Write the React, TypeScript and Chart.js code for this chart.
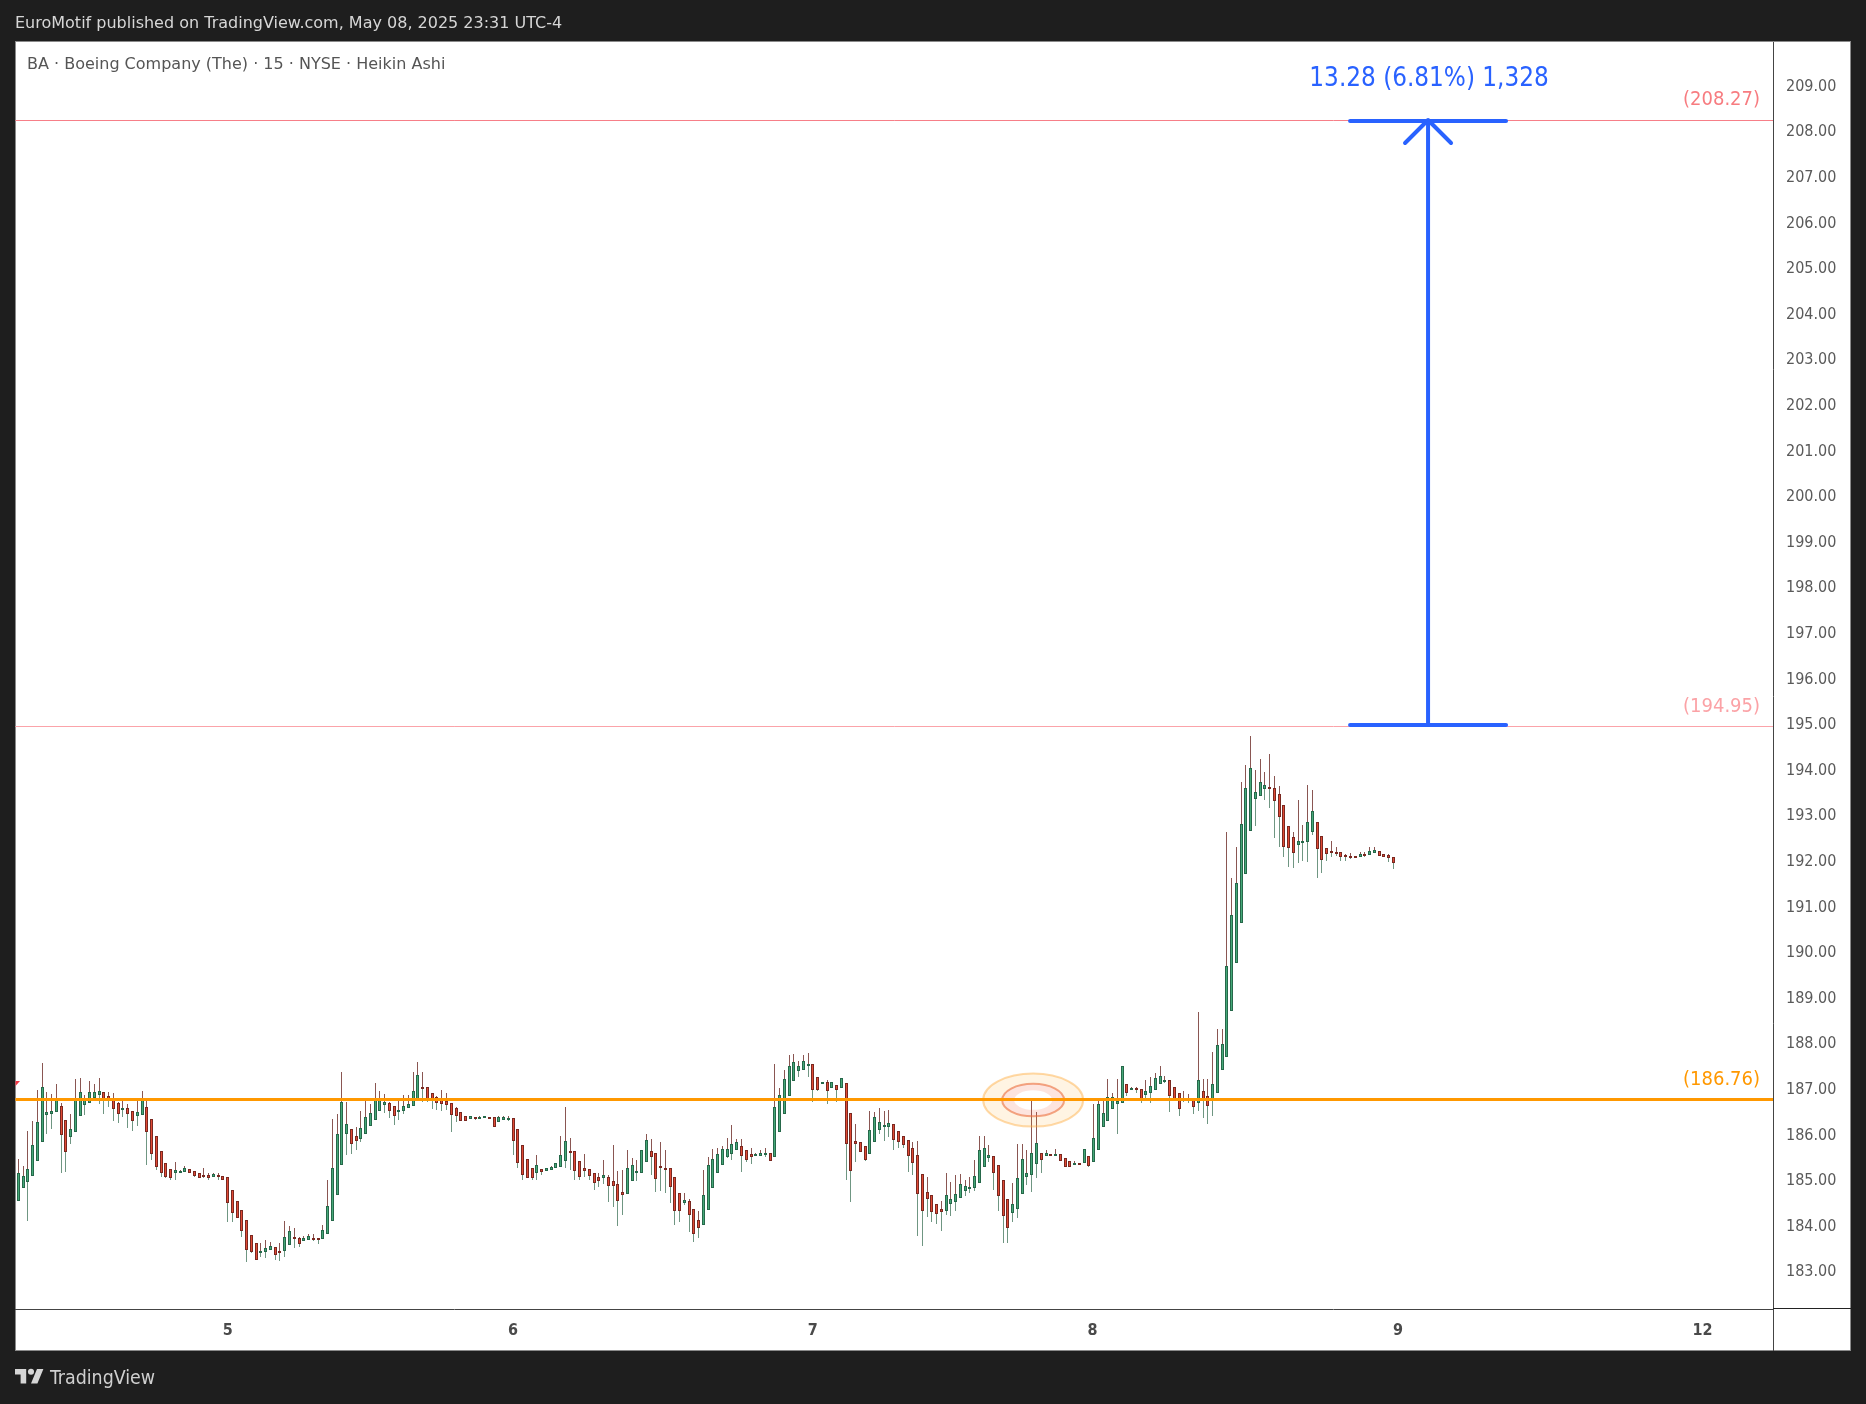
import React, { useEffect, useRef } from "react";
import { Chart, registerables } from "chart.js";

Chart.register(...registerables);

const opens = [
  184.53,184.82,184.95,185.08,185.41,185.83,186.42,186.44,186.47,186.61,
  186.30,185.94,186.03,186.40,186.64,186.68,186.79,186.86,186.91,186.82,
  186.78,186.67,186.55,186.56,186.49,186.38,186.42,186.58,186.32,185.95,
  185.62,185.37,185.22,185.13,185.17,185.17,185.22,185.18,185.13,185.09,
  185.10,185.06,185.10,185.07,185.05,184.76,184.52,184.34,184.10,183.79,
  183.60,183.43,183.41,183.46,183.51,183.44,183.43,183.57,183.73,183.71,
  183.65,183.68,183.71,183.71,183.70,183.81,184.09,184.66,185.32,186.00,
  186.10,185.95,185.89,186.00,186.18,186.31,186.51,186.64,186.67,186.60,
  186.49,186.51,186.56,186.60,186.77,187.02,187.02,186.89,186.80,186.74,
  186.71,186.67,186.56,186.47,186.38,186.33,186.37,186.36,186.36,186.37,
  186.36,186.25,186.30,186.33,186.34,186.10,185.75,185.44,185.24,185.13,
  185.23,185.19,185.21,185.24,185.28,185.41,185.62,185.62,185.40,185.24,
  185.22,185.15,185.05,185.02,185.05,184.96,184.91,184.72,184.69,184.97,
  185.15,185.15,185.39,185.62,185.57,185.29,185.26,185.24,185.05,184.70,
  184.49,184.52,184.36,184.10,184.00,184.33,184.82,185.13,185.32,185.50,
  185.56,185.65,185.73,185.64,185.55,185.54,185.52,185.54,185.57,185.50,
  186.03,186.44,186.82,187.15,187.37,187.41,187.50,187.53,187.24,187.12,
  187.13,187.01,187.07,187.01,187.11,186.45,185.84,185.81,185.73,185.56,
  185.83,186.09,186.18,186.16,186.21,186.06,185.95,185.86,185.68,185.53,
  185.11,184.72,184.65,184.47,184.36,184.31,184.47,184.51,184.60,184.75,
  184.80,184.82,184.93,185.28,185.48,185.51,185.31,184.98,184.58,184.27,
  184.36,184.69,185.06,185.10,185.34,185.57,185.51,185.55,185.54,185.55,
  185.48,185.40,185.32,185.35,185.35,185.51,185.39,185.65,186.14,186.29,
  186.55,186.66,186.68,187.09,186.99,187.00,186.98,186.86,186.90,186.97,
  187.10,187.16,187.18,187.02,186.89,186.72,186.74,186.76,186.68,186.93,
  186.82,186.71,186.90,187.41,187.68,188.69,189.74,190.62,191.69,192.64,
  193.35,193.41,193.57,193.61,193.59,193.46,193.22,192.76,192.51,192.33,
  192.37,192.40,192.62,192.84,192.54,192.27,192.21,192.19,192.18,192.12,
  192.10,192.10,192.07,192.13,192.11,192.15,192.21,192.14,192.12,192.07,
];

const closes = [
  185.13,185.07,185.22,185.75,186.25,187.02,186.47,186.49,186.76,185.98,
  185.61,186.10,186.78,186.91,186.74,186.91,186.91,186.93,186.73,186.73,
  186.55,186.44,186.56,186.44,186.27,186.47,186.76,186.05,185.56,185.28,
  185.15,185.06,185.04,185.20,185.18,185.26,185.13,185.08,185.02,185.08,
  185.04,185.12,185.06,184.99,184.49,184.27,184.16,183.87,183.46,183.41,
  183.24,183.44,183.49,183.55,183.35,183.43,183.73,183.86,183.72,183.59,
  183.71,183.75,183.70,183.70,183.90,184.41,185.26,185.99,186.69,186.21,
  185.78,185.85,186.12,186.36,186.45,186.74,186.76,186.69,186.51,186.40,
  186.52,186.60,186.65,186.93,187.29,187.01,186.75,186.71,186.67,186.66,
  186.64,186.42,186.38,186.29,186.29,186.38,186.33,186.37,186.38,186.36,
  186.14,186.36,186.36,186.34,185.85,185.37,185.10,185.04,185.02,185.31,
  185.17,185.26,185.27,185.35,185.53,185.84,185.61,185.19,185.06,185.19,
  185.08,184.93,184.97,185.09,184.86,184.86,184.53,184.66,185.26,185.31,
  185.18,185.64,185.86,185.50,185.00,185.24,185.21,184.84,184.31,184.31,
  184.54,184.23,183.81,183.94,184.65,185.31,185.44,185.55,185.66,185.66,
  185.77,185.81,185.52,185.43,185.50,185.55,185.59,185.59,185.41,186.58,
  186.85,187.20,187.48,187.57,187.48,187.59,187.53,186.97,186.97,187.13,
  186.93,187.13,186.95,187.22,185.78,185.19,185.78,185.61,185.43,186.08,
  186.36,186.25,186.19,186.23,185.87,185.83,185.76,185.52,185.37,184.69,
  184.31,184.58,184.29,184.25,184.29,184.65,184.56,184.69,184.91,184.85,
  184.83,185.07,185.64,185.68,185.53,185.13,184.64,184.20,183.94,184.47,
  185.02,185.44,185.15,185.59,185.79,185.43,185.59,185.54,185.55,185.41,
  185.28,185.28,185.37,185.34,185.66,185.30,185.90,186.65,186.45,186.80,
  186.80,186.71,187.48,186.90,187.01,186.95,186.77,186.93,187.04,187.22,
  187.26,187.18,186.84,186.77,186.55,186.78,186.76,186.59,187.18,186.73,
  186.60,187.09,187.94,187.97,189.68,190.80,191.49,192.80,193.59,194.03,
  193.50,193.72,193.66,193.59,193.30,192.95,192.29,192.26,192.15,192.43,
  192.43,192.84,193.08,192.24,192.00,192.13,192.18,192.15,192.07,192.07,
  192.09,192.05,192.14,192.12,192.21,192.23,192.09,192.07,192.05,191.93,
];

const highs = [
  185.45,185.29,186.06,186.28,186.96,187.56,186.92,186.88,187.09,186.68,
  186.30,186.44,187.20,187.23,186.85,187.16,187.09,187.23,186.91,186.91,
  186.90,186.69,186.78,186.66,186.49,186.77,186.94,186.74,186.32,185.95,
  185.62,185.37,185.22,185.38,185.21,185.29,185.22,185.18,185.13,185.25,
  185.13,185.15,185.13,185.07,185.05,184.76,184.52,184.34,184.10,183.79,
  183.60,183.60,183.67,183.62,183.51,183.60,184.09,183.98,183.93,183.73,
  183.76,183.80,183.80,183.71,183.99,184.99,186.33,186.44,187.36,186.69,
  186.10,186.16,186.50,186.78,186.66,187.11,186.94,186.88,186.69,186.60,
  186.72,186.85,186.85,187.36,187.58,187.36,187.02,186.89,186.82,186.96,
  186.90,186.67,186.58,186.47,186.38,186.38,186.37,186.39,186.38,186.37,
  186.36,186.39,186.39,186.39,186.34,186.10,185.75,185.44,185.24,185.54,
  185.23,185.26,185.29,185.35,185.95,186.59,185.91,185.62,185.40,185.55,
  185.22,185.15,185.13,185.43,185.09,185.75,185.18,185.21,185.65,185.47,
  185.43,185.64,186.00,185.89,185.57,185.82,185.65,185.24,185.05,184.70,
  184.70,184.57,184.36,184.31,185.21,185.49,185.67,185.69,185.73,185.91,
  186.19,185.89,185.89,185.64,185.69,185.58,185.65,185.69,185.57,187.53,
  187.01,187.40,187.73,187.75,187.60,187.73,187.78,187.53,187.24,187.13,
  187.18,187.13,187.07,187.22,187.11,186.45,186.22,185.81,185.73,186.50,
  186.47,186.56,186.50,186.52,186.21,186.06,185.95,185.86,185.82,185.84,
  185.11,185.05,184.65,184.47,184.52,185.13,184.94,185.10,185.12,184.99,
  185.05,185.43,185.95,185.95,185.76,185.51,185.31,184.98,184.58,184.92,
  185.78,185.78,185.65,186.72,186.48,185.57,185.65,185.55,185.67,185.55,
  185.48,185.40,185.40,185.35,185.66,185.51,186.66,186.77,186.72,187.20,
  186.89,187.20,187.48,187.09,187.03,187.03,186.98,187.18,187.25,187.34,
  187.49,187.27,187.18,187.02,186.89,186.94,186.88,186.76,188.68,187.20,
  187.20,187.80,188.30,188.30,192.61,191.62,192.28,193.71,194.08,194.72,
  193.97,194.21,193.93,194.32,193.84,193.62,193.22,192.76,192.61,193.31,
  192.78,193.66,193.55,192.84,192.54,192.27,192.43,192.28,192.18,192.14,
  192.16,192.10,192.19,192.19,192.30,192.30,192.21,192.14,192.14,192.07,
];

const lows = [
  184.53,184.82,184.09,185.08,185.41,185.83,186.00,186.11,186.47,185.14,
  185.16,185.78,186.03,186.40,186.41,186.68,186.72,186.66,186.44,186.59,
  186.28,186.24,186.37,186.13,186.06,186.17,186.42,185.32,185.43,185.21,
  185.05,185.03,184.99,184.99,185.16,185.17,185.13,185.06,185.02,185.04,
  184.99,185.06,184.99,184.99,184.06,184.06,184.16,183.73,183.19,183.38,
  183.23,183.30,183.27,183.46,183.23,183.21,183.30,183.57,183.49,183.51,
  183.65,183.68,183.65,183.58,183.70,183.81,184.09,184.66,185.32,185.54,
  185.56,185.65,185.82,186.00,186.18,186.31,186.51,186.46,186.35,186.19,
  186.30,186.44,186.56,186.60,186.77,186.70,186.70,186.55,186.52,186.50,
  186.52,186.04,186.26,186.29,186.29,186.33,186.30,186.36,186.36,186.36,
  186.14,186.25,186.30,186.29,185.54,185.25,184.99,185.04,184.99,184.99,
  185.10,185.19,185.21,185.24,185.28,185.25,185.21,184.99,184.99,185.05,
  184.99,184.77,184.83,184.90,184.50,184.39,183.98,184.22,184.69,184.97,
  184.96,185.15,185.39,185.10,184.72,184.74,184.70,184.48,184.00,184.06,
  184.44,183.84,183.62,183.71,184.00,184.33,184.82,185.13,185.32,185.47,
  185.43,185.65,185.16,185.38,185.34,185.51,185.52,185.49,185.41,185.50,
  186.03,186.44,186.82,187.15,187.25,187.41,187.25,186.70,186.94,187.12,
  186.66,187.01,186.70,187.01,184.99,184.50,185.38,185.61,185.40,185.56,
  185.83,186.00,185.84,185.93,185.65,185.69,185.69,185.16,185.10,183.76,
  183.54,184.17,184.06,184.02,183.87,184.22,184.20,184.31,184.60,184.63,
  184.70,184.74,184.93,185.28,185.38,184.77,184.31,183.60,183.60,184.06,
  184.15,184.69,184.88,184.72,185.03,185.14,185.51,185.54,185.51,185.41,
  185.28,185.28,185.32,185.34,185.35,185.27,185.39,185.65,186.14,186.29,
  186.55,186.00,186.68,186.83,186.99,186.90,186.68,186.72,186.68,186.97,
  187.10,187.12,186.48,186.74,186.39,186.70,186.68,186.44,186.50,186.35,
  186.22,186.39,186.90,187.41,187.68,188.69,189.74,190.62,191.69,192.64,
  192.74,193.41,193.33,193.14,192.48,192.30,192.08,191.86,191.82,191.93,
  191.99,191.97,192.56,191.62,191.73,191.99,192.06,192.10,191.99,191.99,
  192.02,192.05,192.07,192.06,192.11,192.15,192.09,192.07,191.97,191.80,
];

const dayTickIndex = [44, 104, 167, 225.8, 290, 354];
const dayTickLabels = ["5", "6", "7", "8", "9", "12"];
const supportLevel = 186.76;
const targetLevel = 208.23;
const targetLabel = "(208.27)";
const breakoutLevel = 194.95;
const breakoutLabel = "(194.95)";
const supportLabel = "(186.76)";
const measureIndex = 296.3;
const ellipseIndex = 213.3;
const ellipseLevel = 186.74;
const headerText = "EuroMotif published on TradingView.com, May 08, 2025 23:31 UTC-4";
const symbolText = "BA · Boeing Company (The) · 15 · NYSE · Heikin Ashi";
const measureText = "13.28 (6.81%) 1,328";
const brandText = "TradingView";

const FONT = '"DejaVu Sans Condensed", "DejaVu Sans", sans-serif';
const FONT_WIDE = '"DejaVu Sans", sans-serif';
const GREEN_FILL = "#45a878";
const GREEN_EDGE = "#26684a";
const RED_FILL = "#e04a35";
const RED_EDGE = "#7a2820";

const snapPlugin = {
  id: "snap",
  afterDatasetsUpdate(chart: any) {
    chart.data.datasets.forEach((ds: any, i: number) => {
      const meta = chart.getDatasetMeta(i);
      meta.data.forEach((el: any) => {
        el.x = Math.round(el.x - 0.5) + 0.5;
        let top = Math.round(Math.min(el.y, el.base));
        let bottom = Math.round(Math.max(el.y, el.base));
        if (ds.label === "body" && bottom - top < 2) bottom = top + 2;
        el.y = top;
        el.base = bottom;
      });
    });
  },
};

const framePlugin = {
  id: "frame",
  beforeDraw(chart: any) {
    const c = chart.ctx;
    c.save();
    c.fillStyle = "#1e1e1e";
    c.fillRect(0, 0, chart.width, chart.height);
    c.fillStyle = "#ffffff";
    c.fillRect(15, 41, 1836, 1310);
    c.strokeStyle = "#8a8a8a";
    c.lineWidth = 1;
    c.strokeRect(15.5, 41.5, 1835, 1309);
    c.textBaseline = "middle";
    c.textAlign = "left";
    c.fillStyle = "#d6d6d6";
    c.font = `16px ${FONT_WIDE}`;
    c.fillText(headerText, 15, 24);
    c.fillStyle = "#555555";
    c.fillText(symbolText, 27, 65);
    const logo = new Path2D("M14 22H7V11H0V4h14v18zM28 22h-8l7.5-18h8L28 22z");
    c.save();
    c.translate(15, 1365.8);
    c.scale(0.8, 0.8);
    c.fillStyle = "#d6d6d6";
    c.fill(logo);
    c.beginPath();
    c.arc(20, 7.5, 3.8, 0, Math.PI * 2);
    c.fill();
    c.restore();
    c.font = `19.4px ${FONT}`;
    c.fillStyle = "#d0d0d0";
    c.fillText(brandText, 50, 1379);
    c.restore();
  },
  afterDraw(chart: any) {
    const c = chart.ctx;
    const { right, bottom } = chart.chartArea;
    c.save();
    c.strokeStyle = "#444444";
    c.lineWidth = 1;
    c.beginPath();
    c.moveTo(15, Math.round(bottom) + 0.5);
    c.lineTo(right, Math.round(bottom) + 0.5);
    c.moveTo(Math.round(right) + 0.5, 42);
    c.lineTo(Math.round(right) + 0.5, 1351);
    c.stroke();
    c.strokeStyle = "#222222";
    c.beginPath();
    c.moveTo(right, Math.round(bottom) - 0.5);
    c.lineTo(1851, Math.round(bottom) - 0.5);
    c.stroke();
    c.restore();
  },
};

const annotationPlugin = {
  id: "annotations",
  afterDatasetsDraw(chart: any) {
    const c = chart.ctx;
    const x = chart.scales.x;
    const y = chart.scales.y;
    const { left, right } = chart.chartArea;
    c.save();

    const ringCx = x.getPixelForValue(ellipseIndex);
    const ringCy = y.getPixelForValue(ellipseLevel);
    const ring = (rx1: number, ry1: number, rx2: number, ry2: number, fill: string, stroke: string) => {
      c.beginPath();
      c.ellipse(ringCx, ringCy, rx1, ry1, 0, 0, Math.PI * 2);
      c.moveTo(ringCx + rx2, ringCy);
      c.ellipse(ringCx, ringCy, rx2, ry2, 0, 0, Math.PI * 2);
      c.fillStyle = fill;
      c.fill("evenodd");
      c.beginPath();
      c.ellipse(ringCx, ringCy, rx1, ry1, 0, 0, Math.PI * 2);
      c.strokeStyle = stroke;
      c.lineWidth = 2;
      c.stroke();
    };
    ring(50, 26.5, 31, 16.3, "rgba(255,152,0,0.11)", "rgba(255,170,60,0.45)");
    ring(31, 16.3, 19, 9.7, "rgba(242,90,50,0.16)", "rgba(235,110,60,0.6)");

    const hline = (v: number, color: string, w: number) => {
      const py = Math.round(y.getPixelForValue(v));
      c.strokeStyle = color;
      c.lineWidth = w;
      c.beginPath();
      c.moveTo(left, w % 2 ? py + 0.5 : py);
      c.lineTo(right, w % 2 ? py + 0.5 : py);
      c.stroke();
      return py;
    };
    const pyT = hline(targetLevel, "#f77f88", 1);
    const pyB = hline(breakoutLevel, "#fba3a9", 1);
    const pyS = hline(supportLevel, "#ff9800", 3);

    c.textAlign = "right";
    c.textBaseline = "middle";
    c.font = `20px ${FONT}`;
    c.fillStyle = "#f77c80";
    c.fillText(targetLabel, 1760, pyT - 20);
    c.fillStyle = "#fba2a6";
    c.fillText(breakoutLabel, 1760, pyB - 19);
    c.fillStyle = "#ff9800";
    c.fillText(supportLabel, 1760, pyS - 19);

    const ax = x.getPixelForValue(measureIndex);
    c.strokeStyle = "#2962ff";
    c.lineCap = "round";
    c.lineJoin = "round";
    c.lineWidth = 4;
    c.beginPath();
    c.moveTo(ax - 78, pyT + 1);
    c.lineTo(ax + 78, pyT + 1);
    c.moveTo(ax - 78, pyB - 1);
    c.lineTo(ax + 78, pyB - 1);
    c.moveTo(ax, pyT + 1);
    c.lineTo(ax, pyB - 1);
    c.moveTo(ax - 23, pyT + 23);
    c.lineTo(ax, pyT);
    c.lineTo(ax + 23, pyT + 23);
    c.stroke();
    c.textAlign = "center";
    c.fillStyle = "#2962ff";
    c.font = `25.8px ${FONT}`;
    c.fillText(measureText, ax + 1, 79);

    c.fillStyle = "#f23645";
    c.beginPath();
    c.moveTo(15.5, 1081);
    c.lineTo(20, 1081);
    c.lineTo(15.5, 1086);
    c.closePath();
    c.fill();
    c.restore();
  },
};

export default function App() {
  const ref = useRef<HTMLCanvasElement | null>(null);
  useEffect(() => {
    const upper = opens.map((o, i) => ({ x: i, y: [Math.max(o, closes[i]), highs[i]] }));
    const lower = opens.map((o, i) => ({ x: i, y: [lows[i], Math.min(o, closes[i])] }));
    const body = opens.map((o, i) => ({ x: i, y: [o, closes[i]] }));
    const up = opens.map((o, i) => closes[i] >= o);
    const chart = new Chart(ref.current as HTMLCanvasElement, {
      type: "bar",
      data: {
        datasets: [
          { label: "upper", data: upper, barThickness: 1, backgroundColor: "#8a5652", borderWidth: 0, order: 2, grouped: false, inflateAmount: 0 },
          { label: "lower", data: lower, barThickness: 1, backgroundColor: "#6f9682", borderWidth: 0, order: 2, grouped: false, inflateAmount: 0 },
          {
            label: "body",
            data: body,
            barThickness: 3,
            backgroundColor: up.map((u) => (u ? GREEN_FILL : RED_FILL)),
            borderColor: up.map((u) => (u ? GREEN_EDGE : RED_EDGE)),
            borderWidth: 1,
            borderSkipped: false,
            order: 1,
            grouped: false,
            inflateAmount: 0,
          },
        ] as any,
      },
      options: {
        animation: false,
        responsive: false,
        devicePixelRatio: 1,
        layout: { padding: { left: 15.5, top: 42, right: 15, bottom: 53 } },
        plugins: { legend: { display: false }, tooltip: { enabled: false } },
        scales: {
          x: {
            type: "linear",
            min: -0.59,
            max: 368.8,
            offset: false,
            grid: { display: false, drawTicks: false },
            border: { display: false },
            afterBuildTicks: (s: any) => {
              s.ticks = dayTickIndex.map((value) => ({ value }));
            },
            afterFit: (s: any) => {
              s.height = 42;
            },
            ticks: {
              autoSkip: false,
              maxRotation: 0,
              padding: 12,
              color: "#4a4a4a",
              font: { family: FONT, size: 16, weight: "bold" },
              callback: (v: any) => dayTickLabels[dayTickIndex.indexOf(v)] ?? "",
            },
          },
          y: {
            position: "right",
            min: 182.158,
            max: 209.943,
            grid: { display: false, drawTicks: false },
            border: { display: false },
            afterFit: (s: any) => {
              s.width = 78;
            },
            ticks: {
              stepSize: 1,
              includeBounds: false,
              autoSkip: false,
              padding: 13,
              color: "#5a5a5a",
              font: { family: FONT, size: 16, lineHeight: "3.4px" },
              callback: (v: any) => ["", Number(v).toFixed(2)],
            },
          },
        },
      } as any,
      plugins: [snapPlugin, framePlugin, annotationPlugin],
    });
    return () => chart.destroy();
  }, []);
  return (
    <div style={{ position: "fixed", inset: 0, background: "#1e1e1e" }}>
      <canvas ref={ref} width={1866} height={1404} style={{ display: "block", width: 1866, height: 1404 }} />
    </div>
  );
}
